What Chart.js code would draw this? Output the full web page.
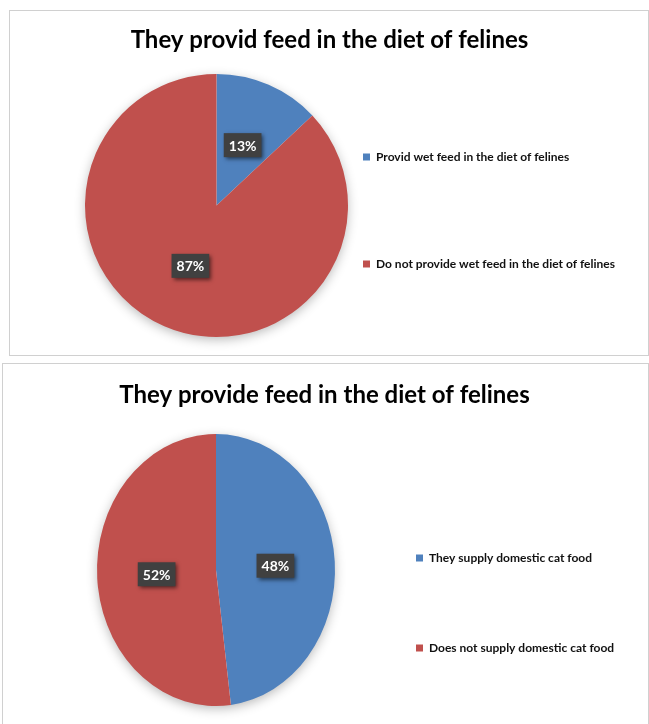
<!DOCTYPE html>
<html>
<head>
<meta charset="utf-8">
<script src="https://cdn.jsdelivr.net/npm/chart.js@4/dist/chart.umd.min.js"></script>
<style>
  body { margin: 0; background: #fff; }
  .box { position: absolute; border: 1px solid #d0d0d0; box-sizing: border-box; }
  canvas { position: absolute; left: 0; }
</style>
</head>
<body>
<div class="box" style="left:9px;top:10px;width:640px;height:346px"></div>
<div class="box" style="left:2px;top:363px;width:647px;height:370px"></div>
<canvas id="topChart" width="649" height="360" style="top:0"></canvas>
<canvas id="bottomChart" width="649" height="364" style="top:360px"></canvas>
<script>
const topTitle = 'They provid feed in the diet of felines';
const topLabels = ['Provid wet feed in the diet of felines', 'Do not provide wet feed in the diet of felines'];
const topValues = [13, 87];

const bottomTitle = 'They provide feed in the diet of felines';
const bottomLabels = ['They supply domestic cat food', 'Does not supply domestic cat food'];
const bottomValues = [48, 52];

const sliceColors = ['#4f81bd', '#c0504d'];
const FONT = 'Lato, "Open Sans", sans-serif';

// pins the pie box + legend where the excel original has them,
// squashes the pie a bit (sx) and draws the dark % boxes
const placePie = {
  id: 'placePie',
  afterLayout(chart, args, opts) {
    const a = chart.chartArea;
    a.left = opts.cx - opts.r;
    a.right = opts.cx + opts.r;
    a.top = opts.cy - opts.r;
    a.bottom = opts.cy + opts.r;
    a.width = a.height = opts.r * 2;

    const lg = chart.legend;
    const pad = chart.options.plugins.legend.labels.padding;
    lg.left = opts.legendX - pad;
    lg.right = chart.width;
    lg.width = lg.right - lg.left;
    lg.top = opts.legendY - pad;
    lg.bottom = lg.top + 2000; // keep both items in one column
    lg.height = lg.bottom - lg.top;
  },
  beforeDatasetsDraw(chart, args, opts) {
    const ctx = chart.ctx;
    ctx.save();
    ctx.translate(opts.cx, opts.cy);
    ctx.scale(opts.sx, 1);
    ctx.translate(-opts.cx, -opts.cy);
    // soft shadow under the pie
    ctx.save();
    ctx.shadowColor = 'rgba(0,0,0,0.3)';
    ctx.shadowBlur = 12;
    ctx.shadowOffsetY = 3;
    ctx.fillStyle = '#fff';
    ctx.beginPath();
    ctx.arc(opts.cx, opts.cy, opts.r - 1, 0, Math.PI * 2);
    ctx.fill();
    ctx.restore();
  },
  afterDatasetsDraw(chart, args, opts) {
    const ctx = chart.ctx;
    ctx.restore();

    const meta = chart.getDatasetMeta(0);
    const values = chart.data.datasets[0].data;
    ctx.save();
    ctx.font = 'bold 14px ' + FONT;
    ctx.textAlign = 'center';
    ctx.textBaseline = 'middle';
    meta.data.forEach((arc, i) => {
      const p = arc.tooltipPosition();
      const x = opts.cx + (p.x - opts.cx) * opts.sx;
      const y = p.y;
      const text = values[i] + '%';
      const w = ctx.measureText(text).width + 10;
      const h = 24;
      ctx.save();
      ctx.shadowColor = 'rgba(0,0,0,0.55)';
      ctx.shadowBlur = 4;
      ctx.shadowOffsetX = 2;
      ctx.shadowOffsetY = 2;
      ctx.fillStyle = '#404040';
      ctx.fillRect(x - w / 2, y - h / 2, w, h);
      ctx.restore();
      ctx.fillStyle = '#fff';
      ctx.fillText(text, x, y + 1);
    });
    ctx.restore();
  }
};

function pieChart(id, title, labels, values, place) {
  return new Chart(document.getElementById(id), {
    type: 'pie',
    data: {
      labels: labels,
      datasets: [{
        data: values,
        backgroundColor: sliceColors,
        borderWidth: 0,
        hoverBorderWidth: 0,
        hoverOffset: 0
      }]
    },
    options: {
      responsive: false,
      animation: false,
      events: [],
      layout: { padding: { left: place.titleShift } },
      plugins: {
        title: {
          display: true,
          text: title,
          color: '#000',
          font: { family: FONT, size: 24, weight: 'bold' },
          padding: { top: place.titleTop, bottom: 0 }
        },
        legend: {
          position: 'right',
          align: 'start',
          labels: {
            boxWidth: 7,
            boxHeight: 7,
            padding: place.gap,
            color: '#111',
            font: { family: FONT, size: 12, weight: 'bold' }
          }
        },
        tooltip: { enabled: false },
        placePie: place
      }
    },
    plugins: [placePie]
  });
}

pieChart('topChart', topTitle, topLabels, topValues,
  { cx: 216.5, cy: 205.5, r: 131.5, sx: 1, legendX: 363, legendY: 151, gap: 95, titleTop: 25.6, titleShift: 10 });

pieChart('bottomChart', bottomTitle, bottomLabels, bottomValues,
  { cx: 216, cy: 210, r: 136, sx: 0.875, legendX: 416, legendY: 192, gap: 78, titleTop: 20.6, titleShift: 0 });
</script>
</body>
</html>
